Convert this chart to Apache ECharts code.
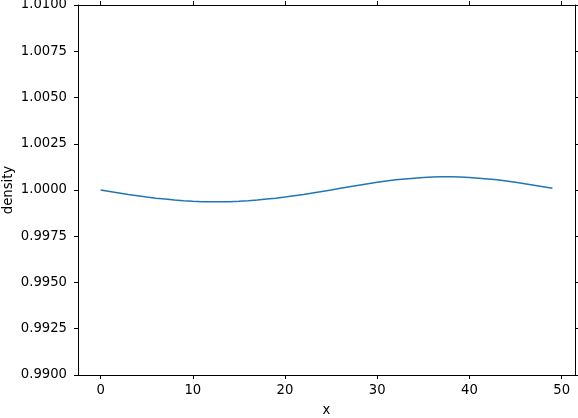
<!DOCTYPE html>
<html><head><meta charset="utf-8">
<script src="https://cdn.jsdelivr.net/npm/echarts@6/dist/echarts.min.js"></script>
<style>html,body{margin:0;padding:0;background:#fff}#c{width:578px;height:418px}</style>
</head><body><div id="c"></div>
<script>
const xValues = [0,1,2,3,4,5,6,7,8,9,10,11,12,13,14,15,16,17,18,19,20,21,22,23,24,25,26,27,28,29,30,31,32,33,34,35,36,37,38,39,40,41,42,43,44,45,46,47,48,49];
const density = [1.00000,0.99992,0.99984,0.99976,0.99969,0.99962,0.99956,0.99951,0.99946,0.99942,
  0.99939,0.99937,0.99936,0.99936,0.99937,0.99939,0.99942,0.99946,0.99951,0.99956,
  0.99962,0.99969,0.99976,0.99984,0.99992,1.00000,1.00009,1.00018,1.00026,1.00034,
  1.00042,1.00049,1.00055,1.00060,1.00064,1.00068,1.00070,1.00071,1.00071,1.00070,
  1.00068,1.00064,1.00060,1.00055,1.00049,1.00042,1.00034,1.00026,1.00018,1.00009];
const xTicks = [0,10,20,30,40,50];
const yMin = 0.99, yMax = 1.01, yStep = 0.0025;
const xMin = -2.45, xMax = 51.45;

const font = 'DejaVu Sans';
const fs = 13.2;
const chart = echarts.init(document.getElementById('c'), null, {renderer:'canvas'});
const lineStyle = {color:'#000', width:1};
const tick = {show:true, inside:false, length:4, lineStyle:{color:'#000', width:1}};
chart.setOption({
  animation:false,
  backgroundColor:'#fff',
  grid:{left:78, right:3, top:5, bottom:43, containLabel:false, outerBoundsMode:'none'},
  xAxis:[{
    type:'value', min:xMin, max:xMax, position:'bottom',
    name:'x', nameLocation:'middle', nameGap:29, nameMoveOverlap:false,
    nameTextStyle:{fontFamily:font, fontSize:fs, color:'#000'},
    axisLine:{show:true, onZero:false, lineStyle},
    axisTick:Object.assign({customValues:xTicks}, tick),
    axisLabel:{customValues:xTicks, fontFamily:font, fontSize:fs, color:'#000', margin:9, formatter:v=>String(Math.round(v))},
    splitLine:{show:false}
  },{
    type:'value', min:xMin, max:xMax, position:'top',
    axisLine:{show:true, onZero:false, lineStyle},
    axisTick:Object.assign({customValues:xTicks}, tick),
    axisLabel:{show:false}, splitLine:{show:false}
  }],
  yAxis:[{
    type:'value', min:yMin, max:yMax, interval:yStep, position:'left',
    name:'density', nameLocation:'middle', nameGap:63, nameRotate:90, nameMoveOverlap:false,
    nameTextStyle:{fontFamily:font, fontSize:fs, color:'#000'},
    axisLine:{show:true, onZero:false, lineStyle},
    axisTick:tick,
    axisLabel:{fontFamily:font, fontSize:fs, color:'#000', margin:11, formatter:v=>v.toFixed(4)},
    splitLine:{show:false}
  },{
    type:'value', min:yMin, max:yMax, interval:yStep, position:'right',
    axisLine:{show:true, onZero:false, lineStyle},
    axisTick:tick,
    axisLabel:{show:false}, splitLine:{show:false}
  }],
  series:[{
    type:'line', xAxisIndex:0, yAxisIndex:0,
    data:xValues.map((x,i)=>[x,density[i]]),
    showSymbol:false, smooth:false,
    lineStyle:{color:'#1f77b4', width:1.5},
    itemStyle:{color:'#1f77b4'}
  }]
});
</script></body></html>
